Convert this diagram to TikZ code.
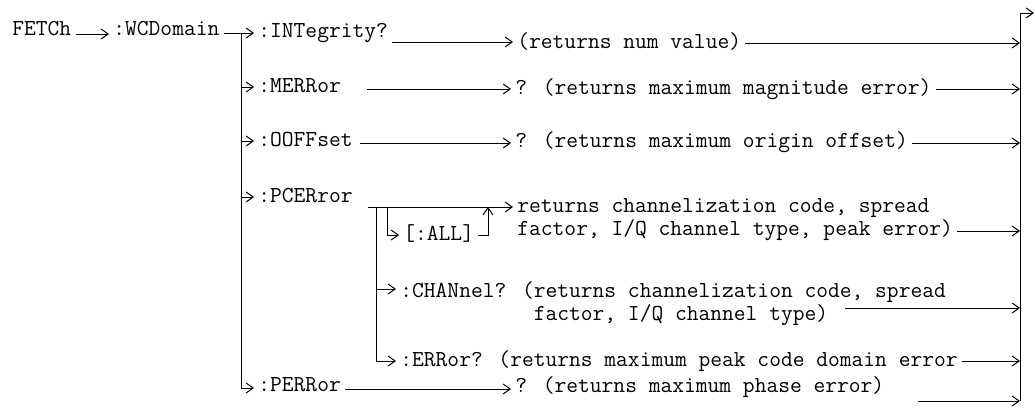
\documentclass[tikz,border=0pt]{standalone}
\usepackage{fontspec}
\usetikzlibrary{arrows.meta,calc}
\begin{document}
\begin{tikzpicture}[x=0.5pt,y=-0.5pt,
  txt/.style={font=\ttfamily\fontsize{11.43}{10.2}\selectfont, inner xsep=2pt, inner ysep=0pt, anchor=base west},
  mtxt/.style={txt, align=left, anchor=north west},
  wire/.style={line width=0.5pt},
  arr/.style={wire, -{Straight Barb[length=3.5pt,width=5pt]}}]
\useasboundingbox (0,0) rectangle (1035,414);
% text nodes
\node[txt] (fetch) at (8,35) {FETCh};
\node[txt] (wcd) at (109,35) {:WCDomain};
\node[txt] (int) at (254,37) {:INTegrity?};
\node[txt] (merr) at (254,92) {:MERRor};
\node[txt] (ooff) at (254,146) {:OOFFset};
\node[txt] (pcer) at (254,202) {:PCERror};
\node[txt] (perr) at (254,391) {:PERRor};
\node[txt] (intr) at (513,48) {(returns num value)};
\node[txt] (merrr) at (511,94) {? (returns maximum magnitude error)};
\node[txt] (ooffr) at (511,147) {? (returns maximum origin offset)};
\node[mtxt] (pcerr) at (513,198) {returns channelization code, spread\\factor, I/Q channel type, peak error)};
\node[txt] (all) at (399,240) {[:ALL]};
\node[mtxt] (chan) at (396,281) {:CHANnel? (returns channelization code, spread\\\hphantom{:CHANnel? (}factor, I/Q channel type)};
\node[txt] (err) at (396,366) {:ERRor? (returns maximum peak code domain error};
\node[txt] (perrr) at (511,392) {? (returns maximum phase error)};
% buses
\coordinate (lbt) at (241,33);
\coordinate (lbb) at (241,388);
\coordinate (rbt) at (1020,13);
\coordinate (rbb) at (1020,401);
\coordinate (exit) at (1034,13);
\draw[wire] (lbt) -- (lbb);
\draw[wire] (rbt) -- (rbb);
\draw[arr] (rbt) -- (exit);
% left side
\draw[arr] (fetch.east |- 0,34) -- (wcd.west |- 0,34);
\draw[arr] (wcd.east |- lbt) -- (int.west |- lbt);
\draw[arr] (lbt |- 0,87) -- (merr.west |- 0,87);
\draw[arr] (lbt |- 0,141) -- (ooff.west |- 0,141);
\draw[arr] (lbt |- 0,197) -- (pcer.west |- 0,197);
\draw[arr] (lbb) -- (perr.west |- lbb);
% middle
\draw[arr] (int.east |- 0,42) -- (intr.west |- 0,42);
\coordinate (m2) at (367,89);
\draw[arr] (m2) -- (merrr.west |- m2);
\coordinate (m3) at (360,143);
\draw[arr] (m3) -- (ooffr.west |- m3);
\coordinate (m4) at (368,207);
\draw[arr] (m4) -- (pcerr.west |- m4);
\draw[arr] (perr.east |- 0,389) -- (perrr.west |- 0,389);
% PCERror internals
\coordinate (ib) at (376,207);
\coordinate (ibb) at (376,361);
\draw[wire] (ib) -- (ibb);
\draw[arr] (ib |- 0,289) -- (chan.west |- 0,289);
\draw[arr] (ibb) -- (err.west |- ibb);
\coordinate (ab) at (387,207);
\draw[arr] (ab) |- (all.west |- 0,235);
\coordinate (au) at (488,207);
\draw[arr] (all.east |- 0,235) -| (au);
% right side
\draw[arr] (intr.east |- 0,43) -- (rbt |- 0,43);
\draw[arr] (merrr.east |- 0,89) -- (rbt |- 0,89);
\draw[arr] (ooffr.east |- 0,143) -- (rbt |- 0,143);
\draw[arr] (pcerr.east |- 0,231) -- (rbt |- 0,231);
\coordinate (c2) at (845,308);
\draw[arr] (c2) -- (rbt |- c2);
\draw[arr] (err.east |- 0,361) -- (rbt |- 0,361);
\coordinate (p2) at (918,401);
\draw[arr] (p2) -- (rbb);
\end{tikzpicture}
\end{document}
